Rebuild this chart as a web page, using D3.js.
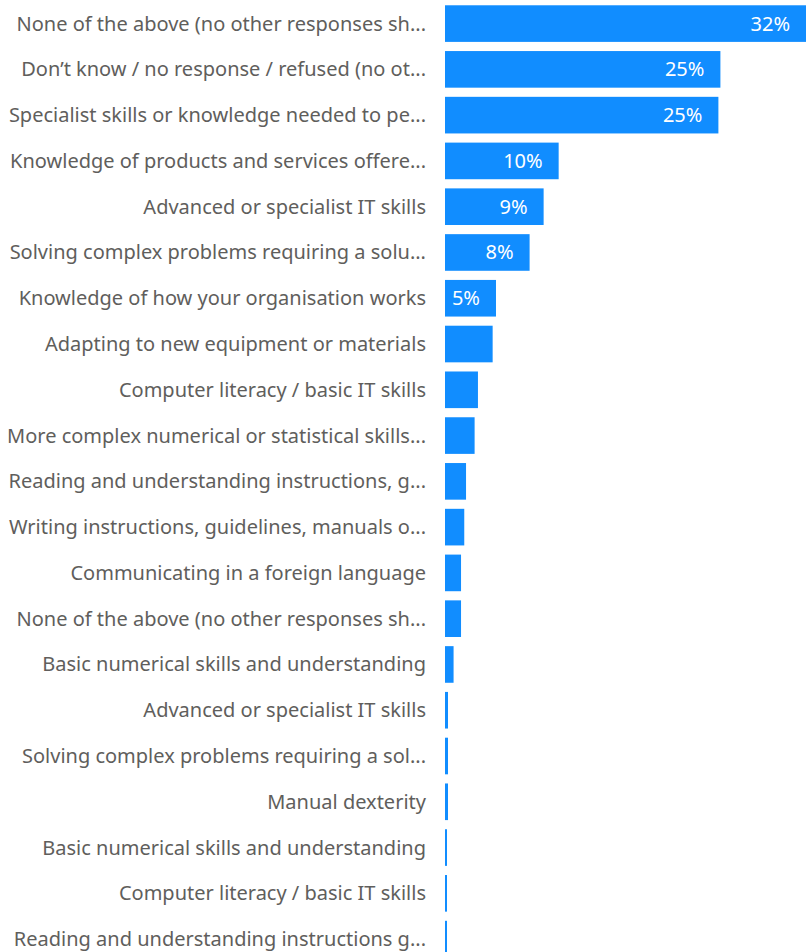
<!DOCTYPE html>
<html>
<head>
<meta charset="utf-8">
<script src="https://cdn.jsdelivr.net/npm/d3@7"></script>
<style>
  html, body { margin: 0; padding: 0; background: #ffffff; }
  svg { display: block; }
</style>
</head>
<body>
<svg id="chart" width="807" height="952"></svg>
<script>
// Skill categories, top to bottom
const categories = [
  "None of the above (no other responses sh...",
  "Don\u2019t know / no response / refused (no ot...",
  "Specialist skills or knowledge needed to pe...",
  "Knowledge of products and services offere...",
  "Advanced or specialist IT skills",
  "Solving complex problems requiring a solu...",
  "Knowledge of how your organisation works",
  "Adapting to new equipment or materials",
  "Computer literacy / basic IT skills",
  "More complex numerical or statistical skills...",
  "Reading and understanding instructions, g...",
  "Writing instructions, guidelines, manuals o...",
  "Communicating in a foreign language",
  "None of the above (no other responses sh...",
  "Basic numerical skills and understanding",
  "Advanced or specialist IT skills",
  "Solving complex problems requiring a sol...",
  "Manual dexterity",
  "Basic numerical skills and understanding",
  "Computer literacy / basic IT skills",
  "Reading and understanding instructions g..."
];

// Share of responses, in percent
const shares = [
  32.43, 24.74, 24.56, 10.21, 8.86, 7.60, 4.58, 4.28, 2.96, 2.66,
  1.89, 1.73, 1.44, 1.44, 0.77, 0.27, 0.27, 0.27, 0.18, 0.18, 0.18
];

const rows = categories.map((name, i) => ({ i, name, value: shares[i] }));

const svg = d3.select("#chart");
const fontFamily = "'Noto Sans', 'Open Sans', sans-serif";
const fontSize = 20;

const x = d3.scaleLinear()
  .domain([0, d3.max(shares)])
  .range([445, 806]);

const y = d3.scaleBand()
  .domain(rows.map(d => d.i))
  .range([0.7, 962])
  .paddingInner(0.2)
  .paddingOuter(0.1);

const barColor = "#118DFF";

// Category labels, right-aligned against the bars
svg.append("g")
  .selectAll("text")
  .data(rows)
  .join("text")
  .attr("x", 426)
  .attr("y", d => y(d.i) + y.bandwidth() / 2)
  .attr("dy", "0.35em")
  .attr("text-anchor", "end")
  .attr("fill", "#605E5C")
  .attr("font-family", fontFamily)
  .attr("font-size", fontSize)
  .text(d => d.name);

// Bars
svg.append("g")
  .selectAll("rect")
  .data(rows)
  .join("rect")
  .attr("x", x(0))
  .attr("y", d => y(d.i))
  .attr("width", d => x(d.value) - x(0))
  .attr("height", y.bandwidth())
  .attr("fill", barColor);

// Value labels inside bars wide enough to hold them
const fmt = v => d3.format(".0f")(v) + "%";
svg.append("g")
  .selectAll("text")
  .data(rows.filter(d => x(d.value) - x(0) >= 49))
  .join("text")
  .attr("x", d => x(d.value) - 16)
  .attr("y", d => y(d.i) + y.bandwidth() / 2)
  .attr("dy", "0.35em")
  .attr("text-anchor", "end")
  .attr("fill", "#ffffff")
  .attr("font-family", fontFamily)
  .attr("font-size", fontSize)
  .text(d => fmt(d.value));
</script>
</body>
</html>
